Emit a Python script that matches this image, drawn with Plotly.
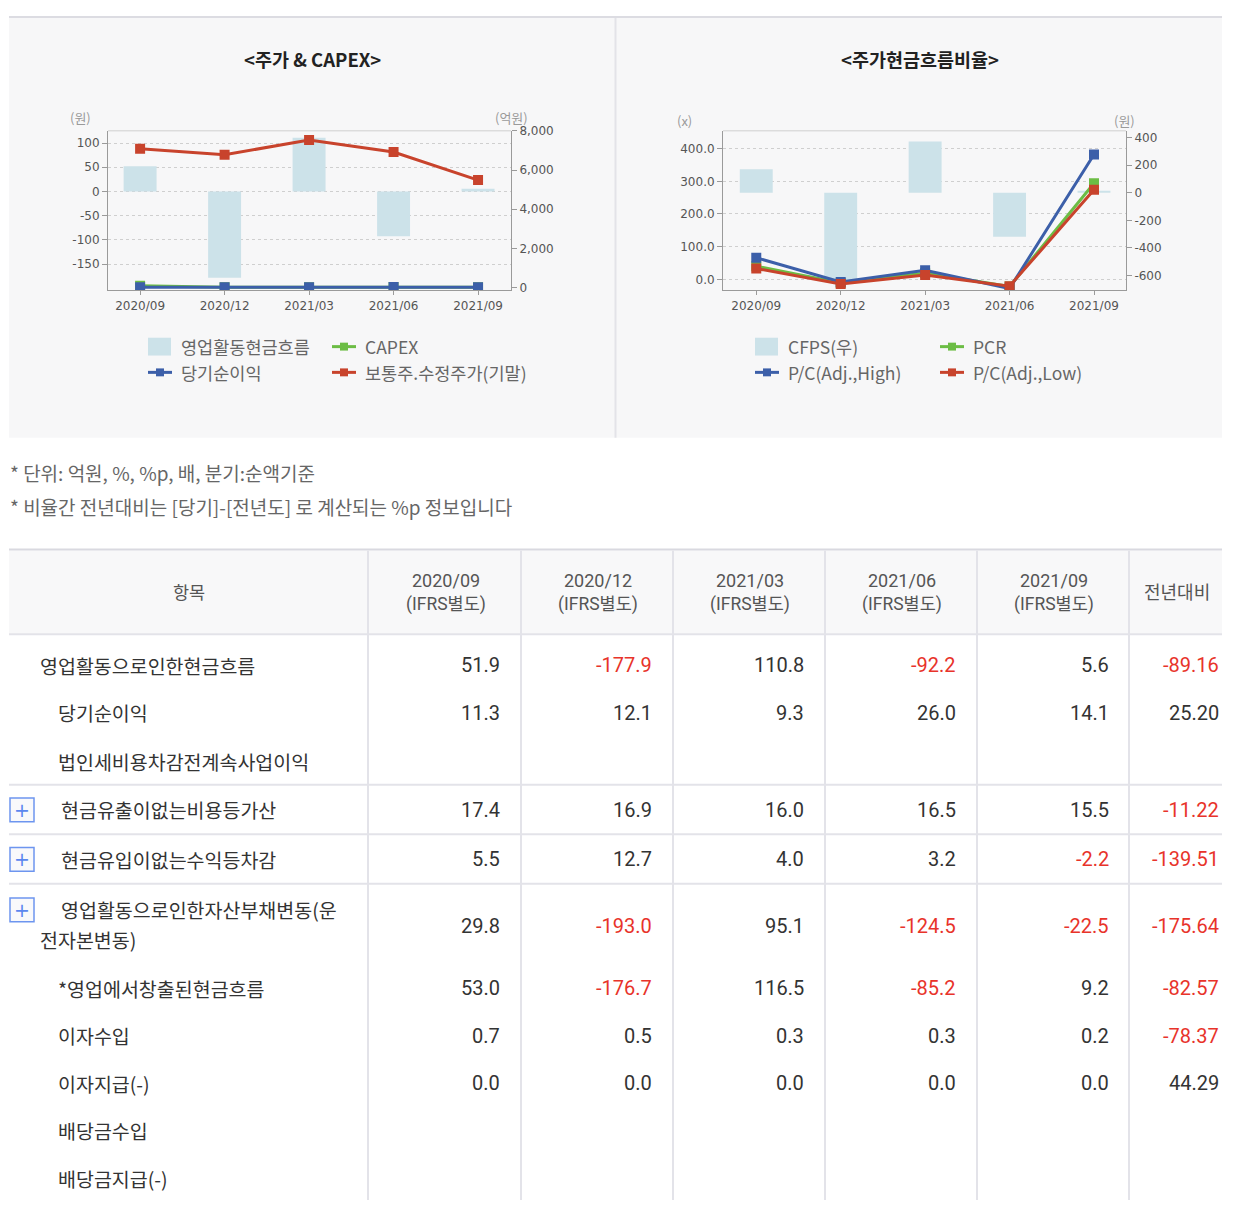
import plotly.graph_objects as go

# page is 1240x1208 with the default 8px body margin -> figure 1224x1192
OFF = 8
W, H = 1224, 1192
CY = -6   # vertical nudge of the chart block


def X(p):
    return (p - OFF) / W


def Y(p):
    return 1 - (p - OFF) / H


def YC(p):
    return Y(p + CY)


KR = "Noto Sans CJK KR"
NUM = "Roboto, Noto Sans CJK KR"
TICK = "DejaVu Sans"

# ---------------- data ----------------
quarters = ["2020/09", "2020/12", "2021/03", "2021/06", "2021/09"]

# chart 1: 주가 & CAPEX
capex = [90, 12, 10, 22, 12]
price = [7090, 6780, 7540, 6920, 5490]

# chart 2: 주가현금흐름비율
cfps = [169, -643, 370, -318, 8]
pcr = [40, -11, 19, -22, 294]
pc_high = [66, -8, 28, -28, 382]
pc_low = [33, -14, 13, -21, 274]

# axis ticks
y1_ticks = [100, 50, 0, -50, -100, -150]
y2_ticks = [0, 2000, 4000, 6000, 8000]
y3_ticks = [-600, -400, -200, 0, 200, 400]
y4_ticks = [0, 100, 200, 300, 400]

# table
items = ["영업활동으로인한현금흐름", "당기순이익", "법인세비용차감전계속사업이익",
         "현금유출이없는비용등가산", "현금유입이없는수익등차감",
         "영업활동으로인한자산부채변동(운전자본변동)", "*영업에서창출된현금흐름",
         "이자수입", "이자지급(-)", "배당금수입", "배당금지급(-)"]
col_heads = ["2020/09", "2020/12", "2021/03", "2021/06", "2021/09"]
v_2020_09 = [51.9, 11.3, None, 17.4, 5.5, 29.8, 53.0, 0.7, 0.0, None, None]
v_2020_12 = [-177.9, 12.1, None, 16.9, 12.7, -193.0, -176.7, 0.5, 0.0, None, None]
v_2021_03 = [110.8, 9.3, None, 16.0, 4.0, 95.1, 116.5, 0.3, 0.0, None, None]
v_2021_06 = [-92.2, 26.0, None, 16.5, 3.2, -124.5, -85.2, 0.3, 0.0, None, None]
v_2021_09 = [5.6, 14.1, None, 15.5, -2.2, -22.5, 9.2, 0.2, 0.0, None, None]
yoy = [-89.16, 25.20, None, -11.22, -139.51, -175.64, -82.57, -78.37, 44.29, None, None]
expandable = [False, False, False, True, True, True, False, False, False, False, False]

cols = [v_2020_09, v_2020_12, v_2021_03, v_2021_06, v_2021_09]
op_cf = [c[0] for c in cols]
net_income = [c[1] for c in cols]

# ---------------- style ----------------
BAR_C = "#cce2e9"
GREEN = "#6cbd45"
BLUE = "#3c5fa9"
RED = "#c8432c"
NEG = "#e8332a"
TXT = "#333333"

fig = go.Figure()


def line_trace(name, vals, color, xa, ya):
    return go.Scatter(x=quarters, y=vals, name=name, xaxis=xa, yaxis=ya,
                      mode="lines+markers", line=dict(color=color, width=3),
                      marker=dict(symbol="square", size=10, color=color),
                      hoverinfo="x+y+name")


fig.add_trace(go.Bar(x=quarters, y=op_cf, name="영업활동현금흐름", xaxis="x", yaxis="y",
                     width=0.39, marker=dict(color=BAR_C, line=dict(width=0))))
fig.add_trace(line_trace("CAPEX", capex, GREEN, "x", "y2"))
fig.add_trace(line_trace("당기순이익", net_income, BLUE, "x", "y2"))
fig.add_trace(line_trace("보통주.수정주가(기말)", price, RED, "x", "y2"))

fig.add_trace(go.Bar(x=quarters, y=cfps, name="CFPS(우)", xaxis="x2", yaxis="y3",
                     width=0.39, marker=dict(color=BAR_C, line=dict(width=0))))
fig.add_trace(line_trace("PCR", pcr, GREEN, "x2", "y4"))
fig.add_trace(line_trace("P/C(Adj.,High)", pc_high, BLUE, "x2", "y4"))
fig.add_trace(line_trace("P/C(Adj.,Low)", pc_low, RED, "x2", "y4"))

ax = dict(showline=True, linecolor="#9a9a9a", linewidth=1, ticks="outside",
          tickcolor="#9a9a9a", ticklen=5, zeroline=False, fixedrange=True,
          tickfont=dict(family=TICK, size=12, color="#555555"))
grid = dict(showgrid=True, gridcolor="#cfcfcf", gridwidth=1, griddash="dot")

ydom = [YC(292), YC(131)]
fig.update_layout(
    xaxis=dict(ax, domain=[X(108), X(511)], anchor="y", type="category",
               range=[-0.38, 4.39], showgrid=False, ticklen=4),
    yaxis=dict(ax, domain=ydom, anchor="x", range=[-203.6, 125.2],
               tickvals=y1_ticks, ticktext=[str(v) for v in y1_ticks], **grid),
    yaxis2=dict(ax, overlaying="y", side="right", anchor="x", range=[-136, 8005],
                tickvals=y2_ticks, ticktext=[f"{v:,}" for v in y2_ticks], showgrid=False),
    xaxis2=dict(ax, domain=[X(723), X(1126)], anchor="y3", type="category",
                range=[-0.394, 4.379], showgrid=False, ticklen=4),
    yaxis3=dict(ax, domain=ydom, anchor="x2", side="right", range=[-705.6, 447.7],
                tickvals=y3_ticks, ticktext=[str(v) for v in y3_ticks], showgrid=False),
    yaxis4=dict(ax, overlaying="y3", side="left", anchor="x2", range=[-33.3, 454.5],
                tickvals=y4_ticks, ticktext=[f"{v:.1f}" for v in y4_ticks], **grid),
)

shapes = []
ann = []


def rect(x0, y0, x1, y1, fill, line="rgba(0,0,0,0)", lw=0, layer="below", yf=Y):
    shapes.append(dict(type="rect", xref="paper", yref="paper", x0=X(x0), x1=X(x1),
                       y0=yf(y0), y1=yf(y1), fillcolor=fill,
                       line=dict(color=line, width=lw), layer=layer))


def seg(x0, y0, x1, y1, color, w, layer="below", yf=Y):
    shapes.append(dict(type="line", xref="paper", yref="paper", x0=X(x0), x1=X(x1),
                       y0=yf(y0), y1=yf(y1), line=dict(color=color, width=w), layer=layer))


def txt(x, y, s, size, color, xanchor="left", family=KR, yf=Y):
    ann.append(dict(x=X(x), y=yf(y), xref="paper", yref="paper", text=s, showarrow=False,
                    xanchor=xanchor, yanchor="middle",
                    font=dict(size=size, color=color, family=family)))


# ---------- chart panels ----------
rect(9, 16, 1222, 441, "#f7f7f8", yf=YC)
seg(9, 16, 1222, 16, "#dcdce2", 2, yf=YC)
seg(615.5, 17, 615.5, 441, "#e3e3e8", 2, yf=YC)
seg(108, 131, 511, 131, "#cfcfcf", 1, layer="above", yf=YC)
seg(723, 131, 1126, 131, "#cfcfcf", 1, layer="above", yf=YC)

txt(312, 58, "<b>&lt;주가 &amp; CAPEX&gt;</b>", 18.5, "#222222", "center", yf=YC)
txt(920, 58, "<b>&lt;주가현금흐름비율&gt;</b>", 18.5, "#222222", "center", yf=YC)
txt(80, 118, "(원)", 13, "#9a9a9a", "center", yf=YC)
txt(511, 118, "(억원)", 13, "#9a9a9a", "center", yf=YC)
txt(684, 121, "(x)", 13, "#9a9a9a", "center", yf=YC)
txt(1124, 121, "(원)", 13, "#9a9a9a", "center", yf=YC)


# legends (drawn manually in a 2x2 grid, using the trace names/colours)
def leg_bar(x, y, label):
    rect(x, y - 9, x + 23, y + 9, BAR_C, layer="above", yf=YC)
    txt(x + 31, y, label, 17.5, "#666666", yf=YC)


def leg_line(x, y, label, color):
    seg(x, y, x + 24, y, color, 3, layer="above", yf=YC)
    rect(x + 8, y - 4, x + 16, y + 4, color, layer="above", yf=YC)
    txt(x + 31, y, label, 17.5, "#666666", yf=YC)


names = [t.name for t in fig.data]
leg_bar(148, 349, names[0])
leg_line(332, 349, names[1], GREEN)
leg_line(148, 375, names[2], BLUE)
leg_line(332, 375, names[3], RED)
leg_bar(755, 349, names[4])
leg_line(940, 349, names[5], GREEN)
leg_line(755, 375, names[6], BLUE)
leg_line(940, 375, names[7], RED)

# ---------- notes ----------
txt(8, 470, "* 단위: 억원, %, %p, 배, 분기:순액기준", 19, "#666666")
txt(8, 504, "* 비율간 전년대비는 [당기]-[전년도] 로 계산되는 %p 정보입니다", 19, "#666666")

# ---------- table ----------
LINE_C = "#e3e3e9"
rect(9, 549, 1222, 633, "#f8f8f9")
seg(9, 548, 1222, 548, "#d9d9e0", 2)
seg(9, 633.5, 1222, 633.5, LINE_C, 2)
col_edges = [368, 521, 673, 825, 977, 1129]
for xe in col_edges:
    seg(xe, 549, xe, 1210, LINE_C, 2)
for ys in [785.7, 835.7, 885.7]:
    seg(9, ys, 1222, ys, LINE_C, 2)

txt(189, 590, "항목", 17.5, "#555555", "center")
centers = [446, 598, 750, 902, 1054]
for cx, head in zip(centers, col_heads):
    txt(cx, 579, head, 18, "#555555", "center", NUM)
    txt(cx, 603, "(IFRS별도)", 17.5, "#555555", "center", NUM)
txt(1177, 590, "전년대비", 18, "#555555", "center")

row_y = [665, 713, 762, 811, 861, 928, 991, 1039, 1087, 1135, 1183]
label_x = [38, 56, 56, 59, 59, 59, 56, 56, 56, 56, 56]
right_edges = [502, 654, 806, 958, 1111, 1221]

for i, name in enumerate(items):
    yy = row_y[i]
    if expandable[i]:
        by = yy - 16 if i == 5 else yy
        rect(10, by - 12, 34, by + 12, "#f9f9fb", "#6d95ef", 1.5, layer="above")
        txt(22, by, "+", 19, "#5b87ef", "center", TICK)
    if i == 5:
        txt(label_x[i], yy - 16, name[:16], 19.5, TXT)
        txt(38, yy + 14, name[16:], 19.5, TXT)
    else:
        txt(label_x[i], yy, name, 19.5, TXT)
    for j, col in enumerate(cols):
        v = col[i]
        if v is None:
            continue
        txt(right_edges[j], yy, f"{v:.1f}", 20, NEG if v < 0 else TXT, "right", NUM)
    v = yoy[i]
    if v is not None:
        txt(right_edges[5], yy, f"{v:.2f}", 20, NEG if v < 0 else TXT, "right", NUM)

fig.update_layout(
    width=W, height=H, autosize=False,
    margin=dict(l=0, r=0, t=0, b=0, pad=0),
    paper_bgcolor="white", plot_bgcolor="white",
    showlegend=False, shapes=shapes, annotations=ann,
    font=dict(family=KR),
)

fig.write_html("out.html", config={"displayModeBar": False})
